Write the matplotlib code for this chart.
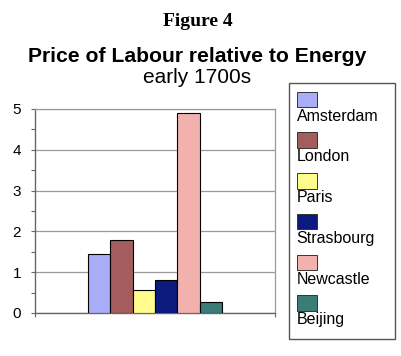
import matplotlib.pyplot as plt
from matplotlib.patches import Rectangle

# data
cities = ['Amsterdam', 'London', 'Paris', 'Strasbourg', 'Newcastle', 'Beijing']
values = [1.45, 1.8, 0.56, 0.8, 4.9, 0.27]
colors = ['#a9acf7', '#a45c5c', '#fffb8c', '#0b1a7c', '#f3b1ae', '#3b7b78']
yticks = [0, 1, 2, 3, 4, 5]

W, H = 401, 356

def fx(px):
    return px / W

def fy(py):
    return 1 - py / H

plt.rcParams['font.family'] = ['Liberation Sans', 'DejaVu Sans']

fig = plt.figure(figsize=(W / 100, H / 100), dpi=100)

# titles
fig.text(fx(198), fy(26), 'Figure 4', family='Liberation Serif', weight='bold',
         fontsize=14, ha='center', va='baseline')
fig.text(fx(197.5), fy(62), 'Price of Labour relative to Energy', weight='bold',
         fontsize=15.2, ha='center', va='baseline')
fig.text(fx(197.5), fy(83), 'early 1700s', fontsize=15, ha='center', va='baseline')

# plot area
ax = fig.add_axes([fx(35), fy(313), fx(275) - fx(35), fy(109) - fy(313)])
n = len(values)
xpos = [i - (n - 1) / 2 for i in range(n)]
ax.bar(xpos, values, width=1.0, color=colors, edgecolor='black', linewidth=0.8, zorder=3)

half = 240 / 22.3 / 2
ax.set_xlim(-half, half)
ax.set_ylim(0, 5)
ax.set_yticks(yticks)
ax.set_yticks([0.5, 1.5, 2.5, 3.5, 4.5], minor=True)
ax.set_xticks([-half, half])
ax.set_xticklabels(['', ''])
ax.grid(axis='y', color='#9a9a9a', linewidth=0.9, zorder=0)
ax.tick_params(axis='y', which='both', direction='out', length=3, width=0.8,
               color='#666666', labelsize=11, pad=7)
ax.tick_params(axis='x', direction='out', length=3, width=0.8, color='#666666')
for s in ['left', 'bottom']:
    ax.spines[s].set_color('#666666')
    ax.spines[s].set_linewidth(1.0)
for s in ['top', 'right']:
    ax.spines[s].set_color('#9a9a9a')
    ax.spines[s].set_linewidth(0.9)

# legend drawn by hand: patch above label
fig.patches.append(Rectangle((fx(289), fy(339)), fx(395) - fx(289), fy(83) - fy(339),
                             transform=fig.transFigure, facecolor='white',
                             edgecolor='#555555', linewidth=1.0))
for i, (city, col) in enumerate(zip(cities, colors)):
    top = 91.7 + i * 40.7
    fig.patches.append(Rectangle((fx(296.5), fy(top + 15.5)), fx(317) - fx(296.5),
                                 fy(top) - fy(top + 15.5), transform=fig.transFigure,
                                 facecolor=col, edgecolor='#333333', linewidth=0.7))
    fig.text(fx(296.5), fy(top + 29), city, fontsize=11.5, ha='left', va='baseline')

fig.savefig('out.png', dpi=100)
